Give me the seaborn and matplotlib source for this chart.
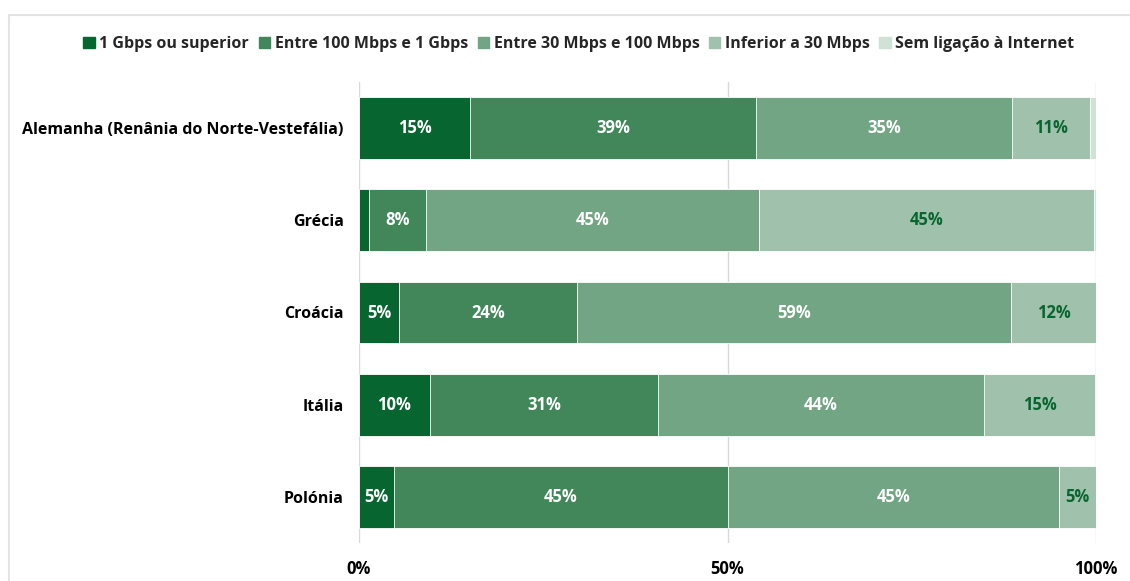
import matplotlib
matplotlib.use("Agg")
import matplotlib.pyplot as plt
import matplotlib.patches as mpatches
import numpy as np
import pandas as pd
import seaborn as sns

# Regions / countries
paises = [
    "Alemanha (Renânia do Norte-Vestefália)",
    "Grécia",
    "Croácia",
    "Itália",
    "Polónia",
]

# Connection-speed shares (%)
gbps_1 = [15.1, 1.4, 5.4, 9.6, 4.7]
mbps_100_1g = [38.8, 7.7, 24.2, 31.0, 45.4]
mbps_30_100 = [34.7, 45.2, 58.9, 44.2, 44.9]
inferior_30 = [10.6, 45.4, 11.5, 15.1, 5.0]
sem_ligacao = [0.8, 0.3, 0.0, 0.1, 0.0]

series_nomes = [
    "1 Gbps ou superior",
    "Entre 100 Mbps e 1 Gbps",
    "Entre 30 Mbps e 100 Mbps",
    "Inferior a 30 Mbps",
    "Sem ligação à Internet",
]
xtick_labels = ["0%", "50%", "100%"]

cores = ["#07662F", "#41875A", "#72A583", "#A0C2AC", "#D0E2D6"]
cor_texto = ["white", "white", "white", "#07662F", "#07662F"]

sns.set_theme(style="white")
plt.rcParams["font.family"] = ["Open Sans", "DejaVu Sans"]
plt.rcParams["font.weight"] = "bold"

valores = np.array([gbps_1, mbps_100_1g, mbps_30_100, inferior_30, sem_ligacao])
acumulado = np.cumsum(valores, axis=0)

df = pd.DataFrame({"pais": paises})
for i, nome in enumerate(series_nomes):
    df[nome] = valores[i]
    df["cum_" + str(i)] = acumulado[i]

fig = plt.figure(figsize=(11.30, 5.81), dpi=100)
ax = fig.add_axes([359 / 1130, 1 - 543 / 581, (1096 - 359) / 1130, (543 - 82) / 581])

# Draw stacked bars back to front using cumulative totals
for i in reversed(range(len(series_nomes))):
    sns.barplot(
        data=df, x="cum_" + str(i), y="pais", orient="h",
        color=cores[i], width=0.67, ax=ax, saturation=1,
        edgecolor="white", linewidth=0.6,
    )

# Value labels centred in each segment
for i in range(len(series_nomes)):
    for j in range(len(paises)):
        v = valores[i, j]
        if v >= 4:
            xc = acumulado[i, j] - v / 2
            ax.text(xc, j, f"{v:.0f}%", ha="center", va="center",
                    color=cor_texto[i], fontsize=12, fontweight="bold")

ax.set_xlim(0, 100)
ax.set_ylim(len(paises) - 0.5, -0.5)
ax.set_xticks([0, 50, 100])
ax.set_xticklabels(xtick_labels, fontsize=12, fontweight="bold", color="black")
ax.tick_params(axis="x", length=0, pad=12)
ax.tick_params(axis="y", length=0, pad=11, labelsize=11.5, labelcolor="black")
for lab in ax.get_yticklabels():
    lab.set_fontweight("bold")
ax.set_xlabel("")
ax.set_ylabel("")
ax.grid(axis="x", color="#D9D9D9", linewidth=1)
ax.set_axisbelow(True)
for s in ax.spines.values():
    s.set_visible(False)

handles = [mpatches.Patch(color=c, label=n) for c, n in zip(cores, series_nomes)]
fig.legend(handles=handles, loc="center", bbox_to_anchor=(579 / 1130, 1 - 44 / 581),
           ncol=5, frameon=False, prop={"size": 11.5, "weight": "bold"},
           handlelength=0.7, handleheight=0.7, handletextpad=0.3, columnspacing=0.6)

# Outer frame
frame = mpatches.Rectangle((8.5 / 1130, -0.1), 1.2, 1 - 14.5 / 581 + 0.1,
                           transform=fig.transFigure, fill=False,
                           edgecolor="#E3E3E3", linewidth=1.5)
fig.patches.append(frame)

fig.savefig("out.png", dpi=100)
